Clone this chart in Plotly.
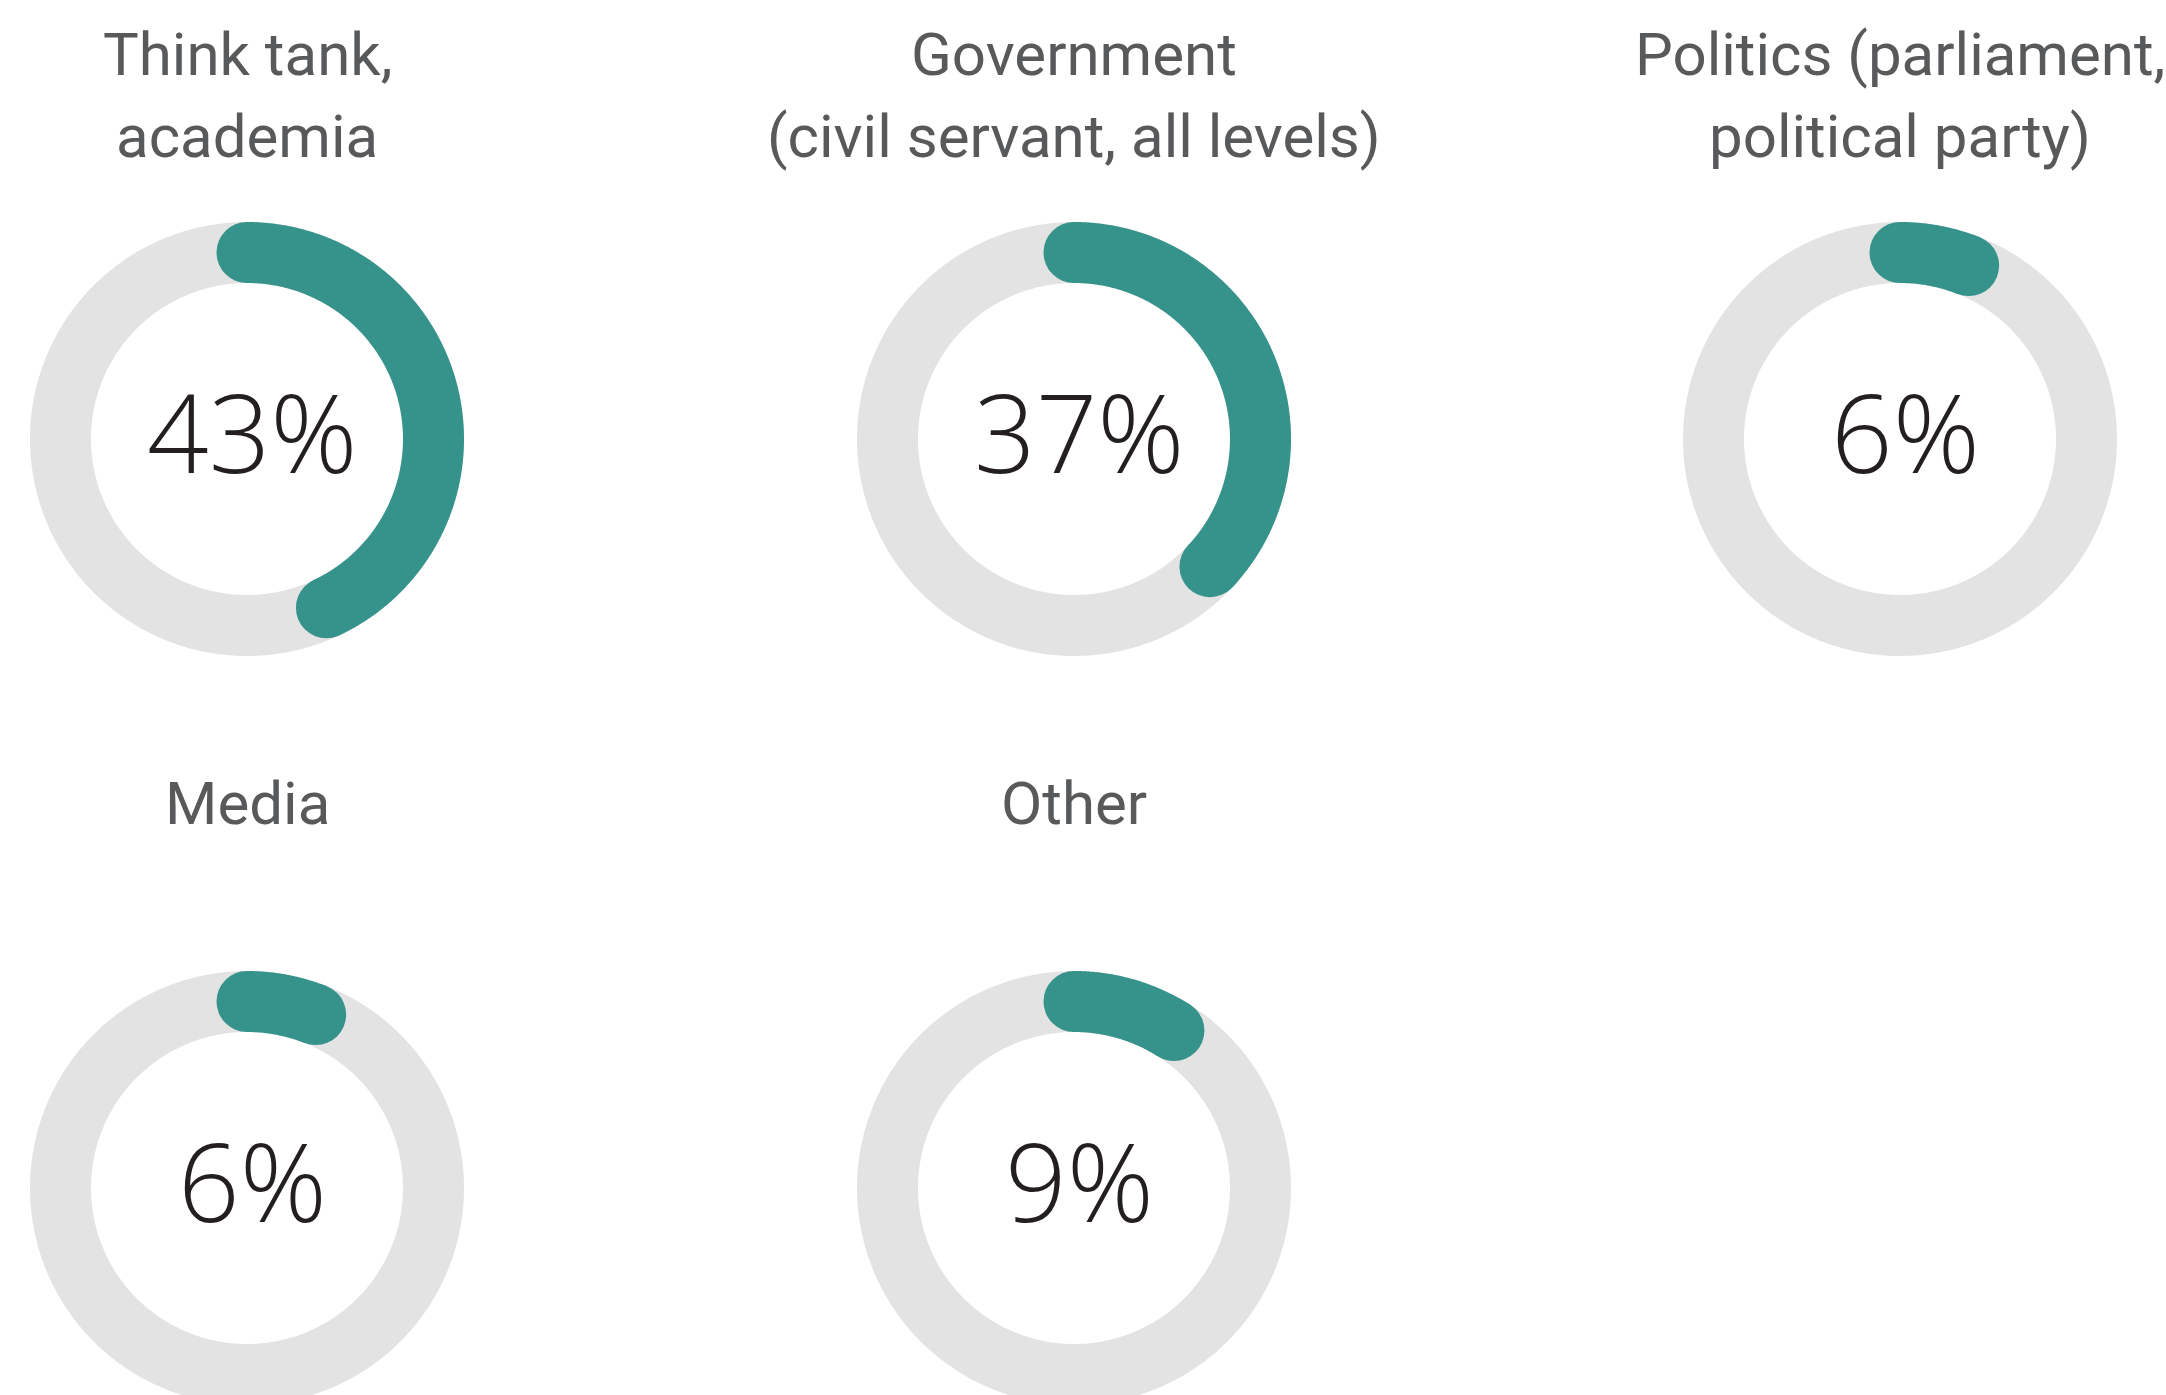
import numpy as np
import plotly.graph_objects as go

# ---- data ----
categories = ["Think tank,<br>academia",
              "Government<br>(civil servant, all levels)",
              "Politics (parliament,<br>political party)",
              "Media",
              "Other"]
values = [43, 37, 6, 6, 9]

# ---- layout / style ----
W, H = 2166, 1395
centers_x = [247, 1074, 1900, 247, 1074]
centers_y = [439, 439, 439, 1188, 1188]
R_MID = 186.5
RING_W = 61
TEAL = "#35938c"
GREY = "#e3e3e3"
TITLE_COLOR = "#58595b"
NUM_COLOR = "#231f20"
TITLE_FONT = "Roboto, sans-serif"
NUM_FONT = "Open Sans, sans-serif"

fig = go.Figure()
annotations = []

for cat, val, cx, cy in zip(categories, values, centers_x, centers_y):
    th = np.linspace(0, 2 * np.pi, 721)
    fig.add_trace(go.Scatter(
        x=cx + R_MID * np.sin(th), y=cy - R_MID * np.cos(th),
        mode="lines", line=dict(color=GREY, width=RING_W, simplify=False),
        hoverinfo="skip", showlegend=False))
    end = val / 100 * 2 * np.pi
    ta = np.linspace(0, end, max(int(val * 8), 40))
    fig.add_trace(go.Scatter(
        x=cx + R_MID * np.sin(ta), y=cy - R_MID * np.cos(ta),
        mode="lines", line=dict(color=TEAL, width=RING_W, simplify=False),
        hoverinfo="skip", showlegend=False))
    fig.add_trace(go.Scatter(
        x=[cx + R_MID * np.sin(0), cx + R_MID * np.sin(end)],
        y=[cy - R_MID * np.cos(0), cy - R_MID * np.cos(end)],
        mode="markers", marker=dict(color=TEAL, size=RING_W, line=dict(width=0)),
        hoverinfo="skip", showlegend=False))
    annotations.append(dict(
        x=cx + 5, y=cy - 8, text=f"{val}%", showarrow=False,
        xanchor="center", yanchor="middle",
        font=dict(family=NUM_FONT, size=108, color=NUM_COLOR, weight=350)))
    lines = cat.split("<br>")
    for i, ln in enumerate(lines):
        annotations.append(dict(
            x=cx, y=cy - 385 + 82 * i, text=ln, showarrow=False,
            xanchor="center", yanchor="middle",
            font=dict(family=TITLE_FONT, size=60, color=TITLE_COLOR)))

fig.update_layout(
    width=W, height=H, margin=dict(l=0, r=0, t=0, b=0),
    paper_bgcolor="white", plot_bgcolor="white",
    xaxis=dict(range=[0, W], visible=False, fixedrange=True),
    yaxis=dict(range=[H, 0], visible=False, fixedrange=True),
    annotations=annotations,
)

fig.write_html("out.html", config={"displayModeBar": False},
               post_script="document.body.style.margin='0';document.body.style.overflow='hidden';")
